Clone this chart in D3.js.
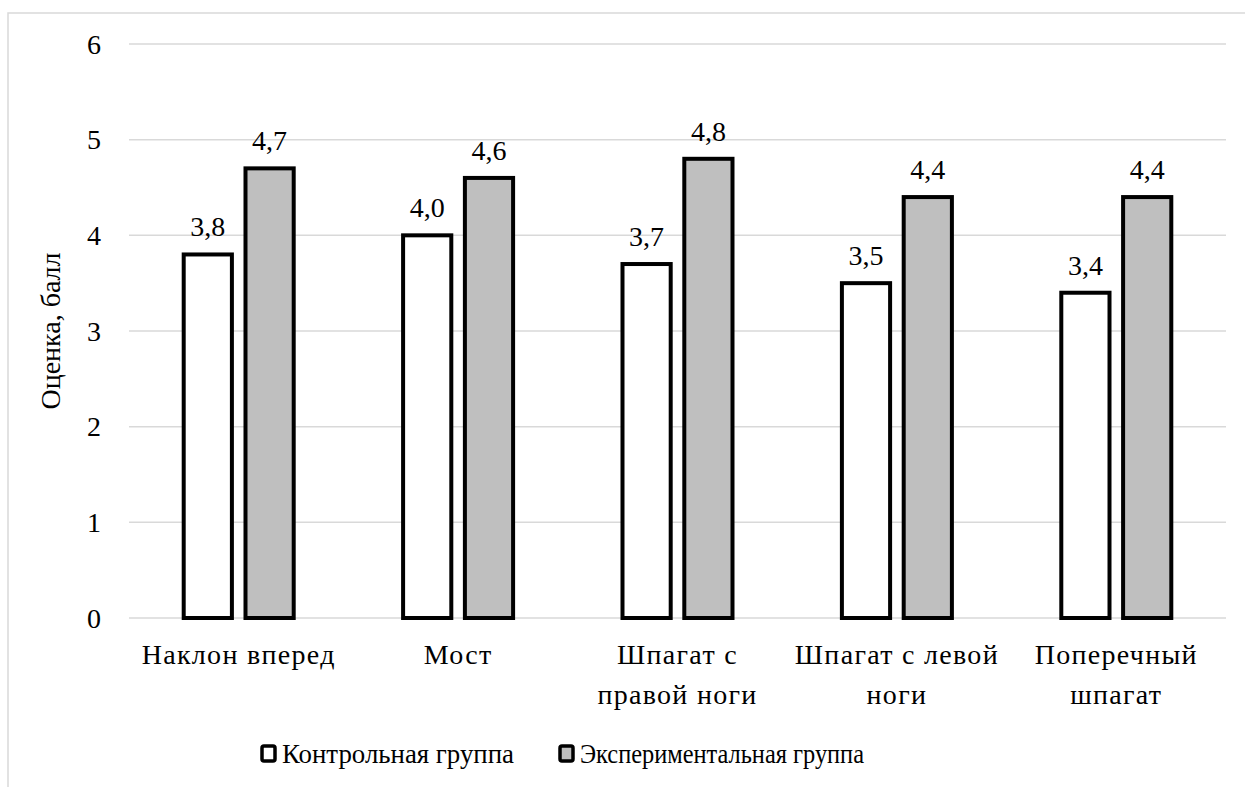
<!DOCTYPE html>
<html><head><meta charset="utf-8"><script src="https://cdn.jsdelivr.net/npm/d3@7"></script>
<style>
  svg text { font-family: "Liberation Serif", "Times New Roman", serif; }
</style>
</head>
<body style="margin:0">
<svg id="chart" width="1245" height="787"></svg>
<script>
// Categories (exercise names), split into display lines
const categories = ["Наклон вперед", "Мост", "Шпагат с правой ноги", "Шпагат с левой ноги", "Поперечный шпагат"];
const categoryLines = [["Наклон вперед"], ["Мост"], ["Шпагат с", "правой ноги"], ["Шпагат с левой", "ноги"], ["Поперечный", "шпагат"]];

// Series
const seriesNames = ["Контрольная группа", "Экспериментальная группа"];
const controlValues = [3.8, 4.0, 3.7, 3.5, 3.4];
const experimentalValues = [4.7, 4.6, 4.8, 4.4, 4.4];
const seriesFills = ["#ffffff", "#bfbfbf"];

// Axis
const yTicks = [0, 1, 2, 3, 4, 5, 6];
const yTitle = "Оценка, балл";

const FONT = 28;
const svg = d3.select("#chart");

const plot = { left: 129, right: 1226, top: 44, bottom: 618 };

// Outer chart frame
svg.append("rect")
  .attr("x", 8).attr("y", 13)
  .attr("width", 1300).attr("height", 900)
  .attr("fill", "none").attr("stroke", "#d9d9d9").attr("stroke-width", 1.5);

const y = d3.scaleLinear().domain([0, 6]).range([plot.bottom, plot.top]);
const x = d3.scaleBand().domain(categories).range([plot.left, plot.right]).padding(0);
const half = 55;
const xInner = d3.scaleBand().domain(seriesNames)
  .range([x.bandwidth() / 2 - half, x.bandwidth() / 2 + half])
  .paddingInner(0.22).paddingOuter(0);

// Gridlines
svg.append("g").selectAll("line").data(yTicks).join("line")
  .attr("x1", plot.left).attr("x2", plot.right)
  .attr("y1", d => y(d)).attr("y2", d => y(d))
  .attr("stroke", "#d9d9d9").attr("stroke-width", 1.5);

// Y tick labels
svg.append("g").selectAll("text").data(yTicks).join("text")
  .attr("x", 101).attr("y", d => y(d))
  .attr("dy", "0.34em")
  .attr("text-anchor", "end")
  .attr("font-size", FONT)
  .text(d => d);

// Y axis title
svg.append("text")
  .attr("transform", `translate(60,${(plot.top + plot.bottom) / 2}) rotate(-90)`)
  .attr("text-anchor", "middle")
  .attr("font-size", FONT)
  .text(yTitle);

// Bars
const rows = categories.map((c, i) => ({ cat: c, vals: [controlValues[i], experimentalValues[i]] }));
const groups = svg.append("g").selectAll("g").data(rows).join("g")
  .attr("transform", d => `translate(${x(d.cat)},0)`);

groups.selectAll("rect").data(d => d.vals.map((v, j) => ({ s: seriesNames[j], v, j }))).join("rect")
  .attr("x", d => xInner(d.s))
  .attr("y", d => y(d.v))
  .attr("width", xInner.bandwidth())
  .attr("height", d => y(0) - y(d.v))
  .attr("fill", d => seriesFills[d.j])
  .attr("stroke", "#000").attr("stroke-width", 4);

// Value labels
groups.selectAll("text.val").data(d => d.vals.map((v, j) => ({ s: seriesNames[j], v, j }))).join("text")
  .attr("class", "val")
  .attr("x", d => xInner(d.s) + xInner.bandwidth() / 2)
  .attr("y", d => y(d.v) - 18)
  .attr("text-anchor", "middle")
  .attr("font-size", FONT)
  .text(d => d3.format(".1f")(d.v).replace(".", ","));

// Category labels
const catText = svg.append("g").selectAll("text").data(categories).join("text")
  .attr("x", d => x(d) + x.bandwidth() / 2)
  .attr("y", 664)
  .attr("text-anchor", "middle")
  .attr("font-size", FONT)
  .style("letter-spacing", "1.3px");
catText.selectAll("tspan").data((d, i) => categoryLines[i]).join("tspan")
  .attr("x", function () { return d3.select(this.parentNode).attr("x"); })
  .attr("dy", (d, k) => k === 0 ? 0 : 40)
  .text(d => d);

// Legend
const legendItems = [
  { name: seriesNames[0], fill: seriesFills[0], mx: 262, len: 232 },
  { name: seriesNames[1], fill: seriesFills[1], mx: 560, len: 284 }
];
const lg = svg.append("g").selectAll("g").data(legendItems).join("g");
lg.append("rect")
  .attr("x", d => d.mx).attr("y", 746)
  .attr("width", 13).attr("height", 15)
  .attr("rx", 2)
  .attr("fill", d => d.fill).attr("stroke", "#000").attr("stroke-width", 3.5);
lg.append("text")
  .attr("x", d => d.mx + 20).attr("y", 763)
  .attr("font-size", FONT)
  .attr("textLength", d => d.len).attr("lengthAdjust", "spacingAndGlyphs")
  .text(d => d.name);
</script>
</body></html>
